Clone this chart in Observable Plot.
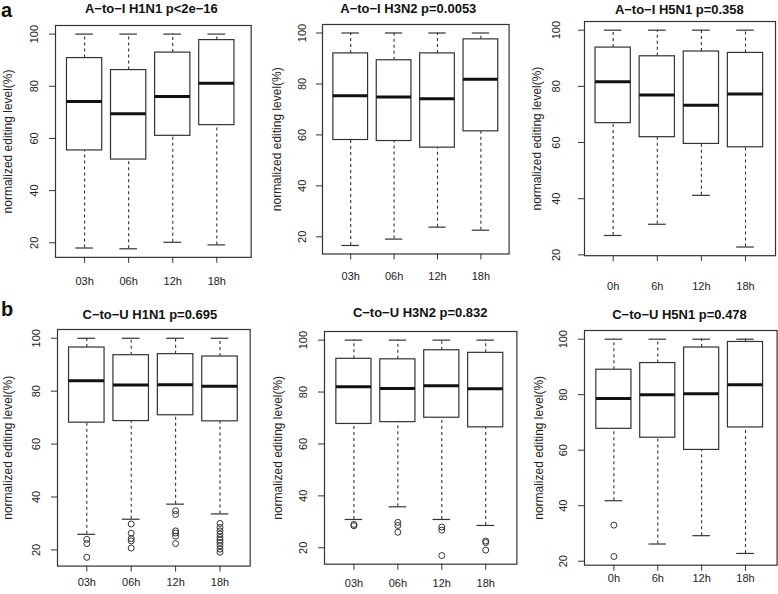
<!DOCTYPE html>
<html><head><meta charset="utf-8">
<script src="https://cdn.jsdelivr.net/npm/d3@7"></script>
<script src="https://cdn.jsdelivr.net/npm/@observablehq/plot@0.6"></script>
<style>
body{margin:0;background:#fff;}
#chart{position:relative;width:778px;height:594px;overflow:hidden;background:#fff;font-family:"Liberation Sans",Arial,Helvetica,sans-serif;}
.panel{position:absolute;}
.tag{position:absolute;font-weight:bold;font-size:20px;line-height:20px;color:#111;}
</style></head><body><div id="chart"></div>
<script>
// ---- data ----
const panelTags = ["a", "b"];
const panelTitles = ["A\u2212to\u2212I H1N1 p<2e\u221216", "A\u2212to\u2212I H3N2 p=0.0053", "A\u2212to\u2212I H5N1 p=0.358",
                     "C\u2212to\u2212U H1N1 p=0.695", "C\u2212to\u2212U H3N2 p=0.832", "C\u2212to\u2212U H5N1 p=0.478"];
const timesH1H3 = ["03h", "06h", "12h", "18h"];
const timesH5 = ["0h", "6h", "12h", "18h"];
const panelTimes = [timesH1H3, timesH1H3, timesH5, timesH1H3, timesH1H3, timesH5];
const yLabel = "normalized editing level(%)";
const yTicks = [20, 40, 60, 80, 100];
const whiskerLow = [[18.0,17.7,20.2,19.2],[16.6,19.1,23.8,22.6],[26.9,30.9,41.2,22.8],
                    [25.9,31.6,37.3,33.6],[30.9,35.8,30.9,28.6],[41.8,26.2,29.2,22.8]];
const quartile1 = [[55.4,51.9,61.0,65.1],[58.0,57.6,55.0,61.4],[66.9,61.9,59.5,58.3],
                   [68.1,68.7,70.9,68.6],[67.7,68.4,70.1,66.4],[67.7,64.5,60.1,68.2]];
const medians = [[74.2,69.5,76.1,81.2],[75.4,74.9,74.2,81.8],[81.6,76.9,73.3,77.3],
                 [83.9,82.3,82.4,81.9],[82.0,81.4,82.4,81.3],[78.6,80.0,80.3,83.6]];
const quartile3 = [[90.8,86.2,92.9,97.7],[92.0,89.3,92.0,97.5],[93.8,90.7,92.4,91.9],
                   [96.5,93.6,94.0,93.1],[92.8,92.6,96.1,95.1],[89.0,91.4,97.0,99.0]];
const whiskerHigh = [[100,100,100,100],[100,100,100,100],[100,100,100,100],
                     [100,100,100,100],[100,100,100,100],[100,100,100,100]];
const outliers = [
  [[], [], [], []],
  [[], [], [], []],
  [[], [], [], []],
  [[24.0,22.4,17.2],[29.8,26.3,24.3,23.4,20.7],[34.8,33.4,27.2,26.4,25.2,22.4],[30.0,28.5,27.2,26.0,24.7,23.7,22.8,21.6,20.3,19.1]],
  [[29.0,28.5],[29.8,28.6,26.0],[28.0,26.8,17.0],[22.6,22.0,19.1]],
  [[33.0,21.7],[],[],[]]
];

// ---- layout (pixel geometry of each panel, not data) ----
const layout = [
  {frame:[55, 250.7, 24.7, 256.6],   xDom:[0.34,4.78], titleY:12.7,  titleDx:-2,   yPad:11.5, xPad:14,  labOff:47},
  {frame:[321.7, 508.3, 23.9, 253.4],xDom:[0.35,4.65], titleY:12.7,  titleDx:-7.5, yPad:10.7, xPad:12.3,labOff:45},
  {frame:[583.7, 774.7, 20.6, 254.8],xDom:[0.35,4.68], titleY:13.3,  titleDx:-0.7, yPad:18.7, xPad:20.9,labOff:47.4},
  {frame:[57.3, 250, 328.6, 565.2],  xDom:[0.34,4.68], titleY:318,   titleDx:-4,   yPad:11,   xPad:6,   labOff:49},
  {frame:[324.3, 516.7, 331.4, 564.1],xDom:[0.33,4.71],titleY:316.7, titleDx:-0.5, yPad:11.8, xPad:9,   labOff:46},
  {frame:[583.7, 776.3, 329.7, 564.4],xDom:[0.33,4.72],titleY:318.3, titleDx:-1.3, yPad:11.7, xPad:3,   labOff:45.7}
];
const tagPos = [[1, 0], [1, 299]];

const chart = document.getElementById("chart");
const font = '"Liberation Sans", Arial, Helvetica, sans-serif';
const ink = "#333";

panelTitles.forEach((title, i) => {
  const L = layout[i];
  const [fl, fr, ft, fb] = L.frame;
  const mL = 64, mT = 32, mR = 4, mB = 40;
  const width = fr - fl + mL + mR;
  const height = fb - ft + mT + mB;
  const groups = panelTimes[i].map((t, j) => ({
    pos: j + 1, label: t,
    low: whiskerLow[i][j], q1: quartile1[i][j], med: medians[i][j], q3: quartile3[i][j], high: whiskerHigh[i][j]
  }));
  const outs = outliers[i].flatMap((arr, j) => arr.map(v => ({pos: j + 1, value: v})));
  const all = [...whiskerLow[i], ...whiskerHigh[i], ...outs.map(d => d.value)];
  const lo = d3.min(all), hi = d3.max(all), pad = (hi - lo) * 0.04;
  const svg = Plot.plot({
    width, height, marginLeft: mL, marginTop: mT, marginRight: mR, marginBottom: mB,
    style: {fontFamily: font, color: "#222", background: "transparent", overflow: "visible"},
    x: {domain: L.xDom, axis: null},
    y: {domain: [lo - pad, hi + pad], axis: null},
    marks: [
      Plot.ruleX(groups, {x: "pos", y1: "q3", y2: "high", stroke: ink, strokeWidth: 1.1, strokeDasharray: "3,3"}),
      Plot.ruleX(groups, {x: "pos", y1: "low", y2: "q1", stroke: ink, strokeWidth: 1.1, strokeDasharray: "3,3"}),
      Plot.ruleY(groups, {y: "high", x1: d => d.pos - 0.2, x2: d => d.pos + 0.2, stroke: ink, strokeWidth: 1.2}),
      Plot.ruleY(groups, {y: "low", x1: d => d.pos - 0.2, x2: d => d.pos + 0.2, stroke: ink, strokeWidth: 1.2}),
      Plot.rect(groups, {x1: d => d.pos - 0.4, x2: d => d.pos + 0.4, y1: "q1", y2: "q3", fill: "white", stroke: ink, strokeWidth: 1.2}),
      Plot.ruleY(groups, {y: "med", x1: d => d.pos - 0.4, x2: d => d.pos + 0.4, stroke: "#111", strokeWidth: 3}),
      Plot.dot(outs, {x: "pos", y: "value", r: 3, stroke: ink, fill: "none", strokeWidth: 1}),
      Plot.frame({stroke: ink, strokeWidth: 1.2}),
      Plot.axisY({ticks: yTicks, tickSize: 6, tickRotate: -90, tickPadding: L.yPad, fontSize: 11, label: null, stroke: ink}),
      Plot.axisX({ticks: [1, 2, 3, 4], tickFormat: d => panelTimes[i][d - 1], tickSize: 6, tickPadding: L.xPad, fontSize: 11, label: null, stroke: ink}),
      Plot.text([title], {text: d => d, frameAnchor: "top", lineAnchor: "bottom", dy: L.titleY - ft, dx: L.titleDx, fontWeight: "bold", fontSize: 13, fill: "#111"}),
      Plot.text([yLabel], {text: d => d, frameAnchor: "left", textAnchor: "middle", rotate: -90, lineAnchor: "middle", dx: -L.labOff, fontSize: 12, fill: "#222"})
    ]
  });
  svg.classList.add("panel");
  svg.style.left = (fl - mL) + "px";
  svg.style.top = (ft - mT) + "px";
  chart.appendChild(svg);
});

panelTags.forEach((t, k) => {
  const d = document.createElement("div");
  d.className = "tag";
  d.textContent = t;
  d.style.left = tagPos[k][0] + "px";
  d.style.top = tagPos[k][1] + "px";
  chart.appendChild(d);
});
</script>
</body></html>
